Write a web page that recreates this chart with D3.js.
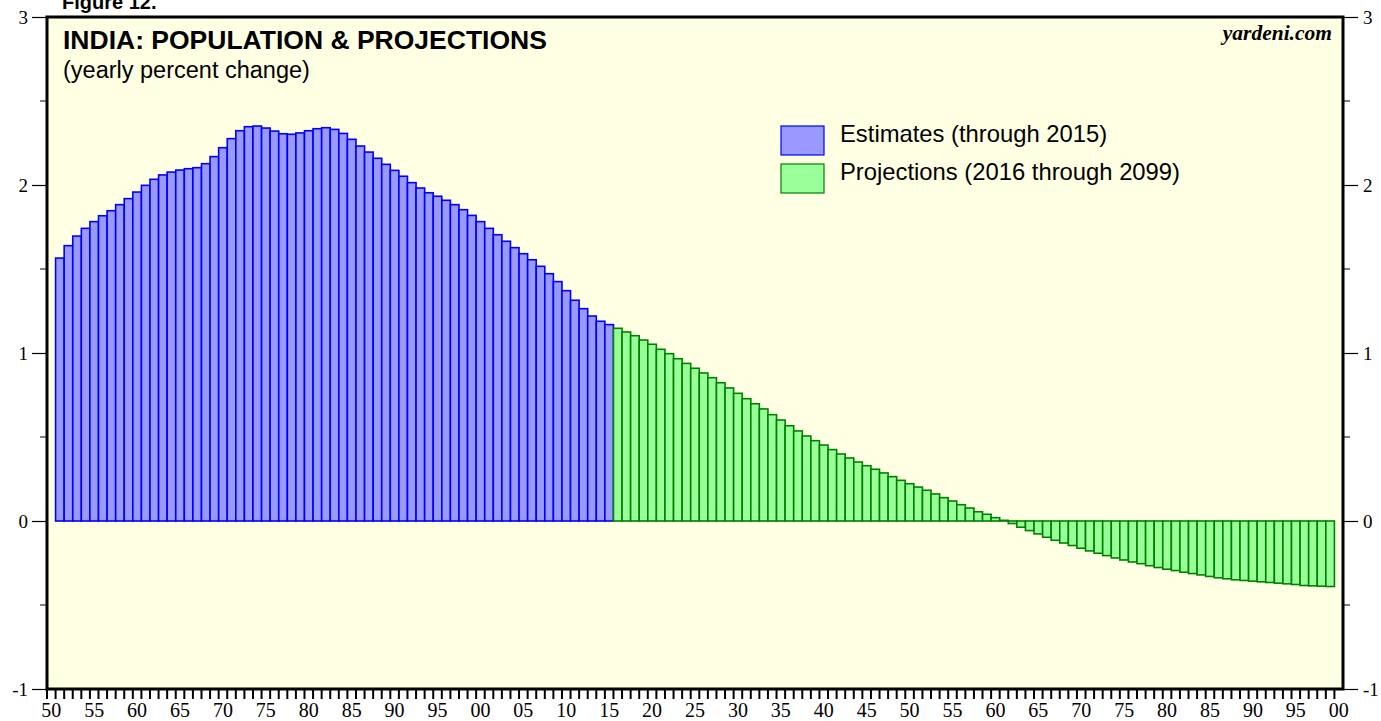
<!DOCTYPE html>
<html><head><meta charset="utf-8">
<script src="https://cdn.jsdelivr.net/npm/d3@7/dist/d3.min.js"></script>
<style>body{margin:0;background:#fff}svg{display:block}</style>
</head><body>
<svg id="c" width="1381" height="721"></svg>
<script>
const estimateYears = d3.range(1951, 2016);
const estimates = [1.565,1.639,1.696,1.742,1.782,1.817,1.847,1.883,1.919,1.958,
1.998,2.034,2.060,2.077,2.089,2.097,2.103,2.127,2.169,2.222,
2.276,2.323,2.347,2.351,2.339,2.321,2.305,2.302,2.310,2.323,
2.335,2.341,2.331,2.307,2.272,2.232,2.196,2.159,2.123,2.087,
2.052,2.014,1.982,1.954,1.933,1.909,1.883,1.853,1.819,1.782,
1.742,1.704,1.665,1.627,1.591,1.555,1.516,1.472,1.425,1.371,
1.314,1.264,1.220,1.189,1.169];
const projectionYears = d3.range(2016, 2100);
const projections = [1.147,1.125,1.103,1.077,1.052,1.022,0.996,0.966,0.938,0.909,
0.881,0.853,0.823,0.792,0.760,0.728,0.698,0.667,0.633,0.601,
0.567,0.536,0.506,0.478,0.452,0.425,0.399,0.375,0.351,0.329,
0.308,0.286,0.264,0.242,0.222,0.202,0.183,0.161,0.139,0.119,
0.097,0.077,0.055,0.040,0.020,0.004,-0.015,-0.037,-0.057,-0.077,
-0.097,-0.115,-0.131,-0.146,-0.162,-0.178,-0.192,-0.206,-0.220,-0.232,
-0.244,-0.254,-0.266,-0.277,-0.287,-0.295,-0.305,-0.313,-0.321,-0.330,
-0.338,-0.344,-0.350,-0.354,-0.358,-0.362,-0.366,-0.370,-0.374,-0.378,
-0.384,-0.386,-0.388,-0.390];
const yTicks = [-1, 0, 1, 2, 3];
const xLabelYears = d3.range(1950, 2101, 5);
const titleText = "INDIA: POPULATION & PROJECTIONS";
const subtitleText = "(yearly percent change)";
const legendLabels = ["Estimates (through 2015)", "Projections (2016 through 2099)"];

const svg = d3.select("#c");
const L = 47, R = 1343, T = 17, B = 689;
const x = d3.scaleBand().domain(d3.range(1950, 2101)).range([L, R]).padding(0);
const y = d3.scaleLinear().domain([-1, 3]).range([B, T]);
const sans = "Liberation Sans, Arial, Helvetica, sans-serif";
const serif = "Liberation Serif, Times New Roman, serif";

// figure label (partly cut off at top, as in the reference)
svg.append("text").attr("x", 62).attr("y", 9).attr("font-family", sans)
  .attr("font-weight", "bold").attr("font-size", 20).text("Figure 12.");

svg.append("rect").attr("x", L).attr("y", T).attr("width", R - L).attr("height", B - T).attr("fill", "#FFFFE3");

const series = [
  {years: estimateYears, vals: estimates, fill: "#9999FF", stroke: "#0000FF"},
  {years: projectionYears, vals: projections, fill: "#99FF99", stroke: "#008000"}
];
series.forEach(s => {
  svg.append("g").selectAll("rect").data(s.vals).join("rect")
    .attr("x", (d, i) => x(s.years[i]))
    .attr("width", x.bandwidth())
    .attr("y", d => y(Math.max(0, d)))
    .attr("height", d => Math.abs(y(d) - y(0)))
    .attr("fill", s.fill).attr("stroke", s.stroke).attr("stroke-width", 1.6);
});

// frame
svg.append("rect").attr("x", L).attr("y", T).attr("width", R - L).attr("height", B - T)
  .attr("fill", "none").attr("stroke", "#000").attr("stroke-width", 3);

// y axes
const fmt = d => String(d);
const leftAxis = d3.axisLeft(y).tickValues(yTicks).tickSize(15).tickPadding(4).tickFormat(fmt);
const gl = svg.append("g").attr("transform", `translate(${L},0)`).call(leftAxis);
const rightAxis = d3.axisRight(y).tickValues(yTicks).tickSize(15).tickPadding(5).tickFormat(fmt);
const gr = svg.append("g").attr("transform", `translate(${R},0)`).call(rightAxis);
[gl, gr].forEach(g => {
  g.select(".domain").remove();
  g.selectAll("text").attr("font-family", serif).attr("font-size", 19).attr("fill", "#000");
  g.selectAll("line").attr("stroke", "#000").attr("stroke-width", 1.2);
});
const minorY = d3.range(-0.5, 3, 1);
svg.append("g").selectAll("line").data(minorY).join("line")
  .attr("x1", L - 7).attr("x2", L).attr("y1", d => y(d)).attr("y2", d => y(d)).attr("stroke", "#000");
svg.append("g").selectAll("line").data(minorY).join("line")
  .attr("x1", R).attr("x2", R + 7).attr("y1", d => y(d)).attr("y2", d => y(d)).attr("stroke", "#000");

// x ticks at slot boundaries
const bounds = d3.range(1950, 2101);
svg.append("g").selectAll("line").data(bounds).join("line")
  .attr("x1", d => x(d)).attr("x2", d => x(d))
  .attr("y1", B).attr("y2", B + 10)
  .attr("stroke", "#000").attr("stroke-width", 2);
svg.append("g").selectAll("text").data(xLabelYears).join("text")
  .attr("x", d => x(d) + x.bandwidth() / 2).attr("y", 717)
  .attr("text-anchor", "middle").attr("font-family", serif).attr("font-size", 20)
  .text(d => String(d % 100).padStart(2, "0"));

// titles
svg.append("text").attr("x", 63).attr("y", 49).attr("font-family", sans).attr("font-weight", "bold")
  .attr("font-size", 26.5).text(titleText);
svg.append("text").attr("x", 63).attr("y", 78).attr("font-family", sans).attr("font-size", 23.5).text(subtitleText);
svg.append("text").attr("x", 1332).attr("y", 40).attr("text-anchor", "end").attr("font-family", serif)
  .attr("font-weight", "bold").attr("font-style", "italic").attr("font-size", 21.5).text("yardeni.com");

// legend
const lg = svg.append("g");
series.forEach((s, i) => {
  lg.append("rect").attr("x", 781).attr("y", 126 + i * 38).attr("width", 43).attr("height", 29)
    .attr("fill", s.fill).attr("stroke", s.stroke).attr("stroke-width", 1.2);
  lg.append("text").attr("x", 840).attr("y", 142 + i * 38).attr("font-family", sans).attr("font-size", 23.8)
    .text(legendLabels[i]);
});
</script>
</body></html>
